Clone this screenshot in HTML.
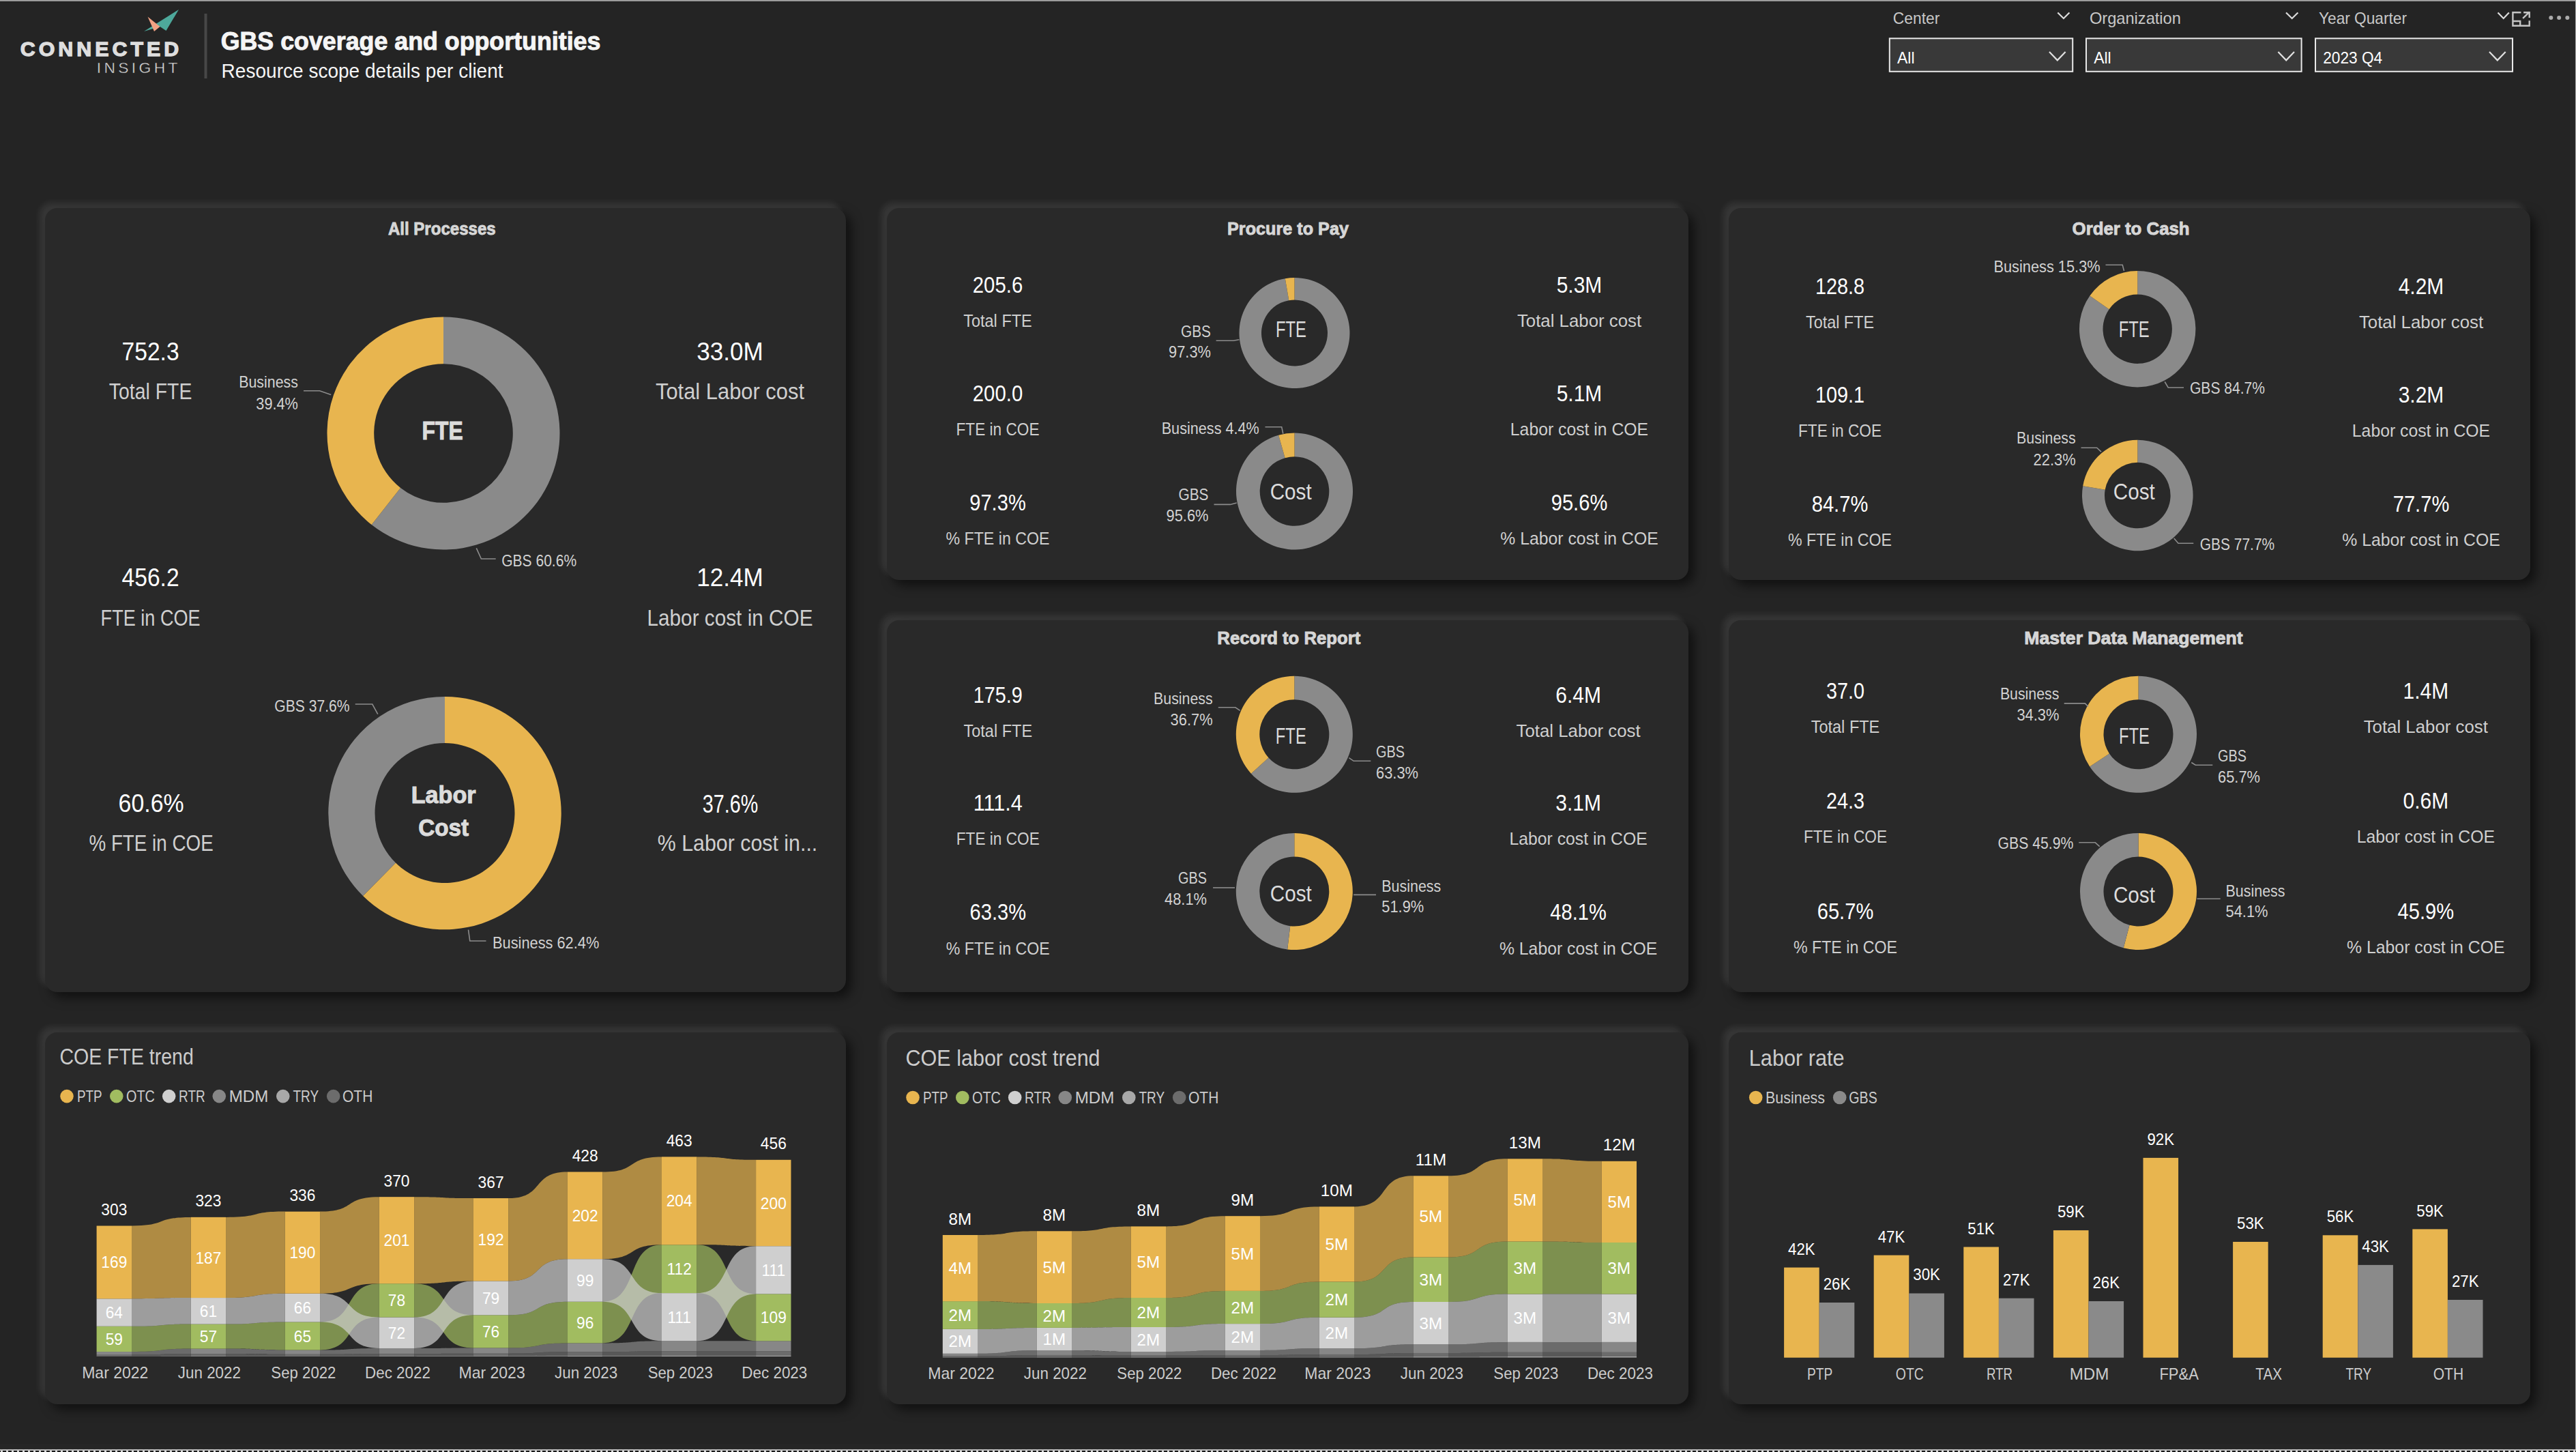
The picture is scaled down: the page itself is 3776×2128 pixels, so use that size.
<!DOCTYPE html>
<html><head><meta charset="utf-8"><title>GBS coverage and opportunities</title>
<style>
html,body{margin:0;padding:0;}
body{width:3776px;height:2128px;background:#242424;position:relative;overflow:hidden;font-family:"Liberation Sans",sans-serif;}
.card{position:absolute;background:#292929;border-radius:18px;box-shadow:-8px -8px 10px rgba(255,255,255,0.09),8px 8px 16px rgba(0,0,0,0.55);}
.topbar{position:absolute;left:0;top:0;width:100%;height:2px;background:#9c9c9c;}
.topbar2{position:absolute;left:0;top:2px;width:100%;height:1px;background:#1c1c1c;}
.rframe{position:absolute;left:3767px;top:3px;width:8px;height:2113px;background:#272727;}
.bframe{position:absolute;left:0;top:2116px;width:3775px;height:8px;background:#262626;}
.rbar{position:absolute;right:0;top:0;width:1px;height:2126px;background:#b0b0b0;}
.bbar{position:absolute;left:0;top:2124px;width:100%;height:2px;background:#bdbdbd;}
.dots{position:absolute;left:0;top:2126px;width:100%;height:2px;background:repeating-linear-gradient(90deg,#1a1a1a 0 1.2px,#d8d8d8 1.2px 4.2px,#1a1a1a 4.2px 7.99px);}
svg{position:absolute;left:0;top:0;}
text{font-family:"Liberation Sans",sans-serif;}
</style></head><body>
<div class="topbar"></div><div class="topbar2"></div>
<div class="card" style="left:66px;top:305px;width:1174px;height:1149px"></div>
<div class="card" style="left:1300px;top:305px;width:1175px;height:545px"></div>
<div class="card" style="left:2534px;top:305px;width:1175px;height:545px"></div>
<div class="card" style="left:1300px;top:909px;width:1175px;height:545px"></div>
<div class="card" style="left:2534px;top:909px;width:1175px;height:545px"></div>
<div class="card" style="left:66px;top:1513px;width:1174px;height:545px"></div>
<div class="card" style="left:1300px;top:1513px;width:1175px;height:545px"></div>
<div class="card" style="left:2534px;top:1513px;width:1175px;height:545px"></div>
<svg width="3776" height="2128" viewBox="0 0 3776 2128">
<polygon points="211,46 262,14 243.5,45 234.5,39" fill="#4DA89B"/>
<polygon points="216.5,24.5 234.5,39 226,46" fill="#F2A283"/>
<text x="29.8" y="81.7" font-size="30.4" font-weight="bold" stroke="#dedede" stroke-width="1.30" fill="#dedede" text-anchor="start" letter-spacing="4.99">CONNECTED</text>
<text x="141.7" y="106.7" font-size="22.8" stroke="#242424" stroke-width="0.45" fill="#dedede" text-anchor="start" letter-spacing="4.39">INSIGHT</text>
<rect x="299.5" y="20" width="4" height="95" fill="#474747"/>
<text x="323.7" y="73.1" font-size="37.6" font-weight="bold" stroke="#f5f5f5" stroke-width="1.00" fill="#f5f5f5" text-anchor="start" textLength="556.7" lengthAdjust="spacingAndGlyphs">GBS coverage and opportunities</text>
<text x="324.6" y="113.6" font-size="28.8" fill="#f5f5f5" text-anchor="start" textLength="413.0" lengthAdjust="spacingAndGlyphs">Resource scope details per client</text>
<text x="2774.8" y="35.0" font-size="23.8" fill="#c8c8c8" text-anchor="start" textLength="68.5" lengthAdjust="spacingAndGlyphs">Center</text>
<polyline points="3016.3,18.5 3024.9,27.0 3033.4,18.5" fill="none" stroke="#dcdcdc" stroke-width="2.2"/>
<rect x="2769.8" y="56.3" width="268.4" height="48.5" fill="#393939" stroke="#e8e8e8" stroke-width="2"/>
<text x="2781.0" y="92.8" font-size="24.5" fill="#ffffff" text-anchor="start" textLength="25.5" lengthAdjust="spacingAndGlyphs">All</text>
<polyline points="3004.0,76.0 3015.8,88.3 3027.6,76.0" fill="none" stroke="#e0e0e0" stroke-width="2.2"/>
<text x="3062.9" y="35.0" font-size="23.8" fill="#c8c8c8" text-anchor="start" textLength="134.0" lengthAdjust="spacingAndGlyphs">Organization</text>
<polyline points="3351.0,18.5 3359.7,27.0 3368.4,18.5" fill="none" stroke="#dcdcdc" stroke-width="2.2"/>
<rect x="3058.0" y="56.3" width="315.6" height="48.5" fill="#393939" stroke="#e8e8e8" stroke-width="2"/>
<text x="3069.2" y="92.8" font-size="24.5" fill="#ffffff" text-anchor="start" textLength="25.5" lengthAdjust="spacingAndGlyphs">All</text>
<polyline points="3339.4,76.0 3351.2,88.3 3363.0,76.0" fill="none" stroke="#e0e0e0" stroke-width="2.2"/>
<text x="3399.0" y="35.0" font-size="23.8" fill="#c8c8c8" text-anchor="start" textLength="129.0" lengthAdjust="spacingAndGlyphs">Year Quarter</text>
<polyline points="3661.5,18.5 3669.7,27.0 3677.8,18.5" fill="none" stroke="#dcdcdc" stroke-width="2.2"/>
<rect x="3394.0" y="56.3" width="289.0" height="48.5" fill="#393939" stroke="#e8e8e8" stroke-width="2"/>
<text x="3405.2" y="92.8" font-size="24.5" fill="#ffffff" text-anchor="start" textLength="87.0" lengthAdjust="spacingAndGlyphs">2023 Q4</text>
<polyline points="3649.0,76.0 3660.8,88.3 3672.7,76.0" fill="none" stroke="#e0e0e0" stroke-width="2.2"/>
<path d="M3695.4 18.3 H3683.4 V37.8 H3707.7 V30.3 M3683.4 31.0 H3694.2 V37.8 M3698.1 26.9 L3707.7 17.6 M3699.1 18.3 H3707.7 V25.9" fill="none" stroke="#c4c4c4" stroke-width="2.4"/>
<circle cx="3739.3" cy="25.9" r="3" fill="#ababab"/>
<circle cx="3751.1" cy="25.9" r="3" fill="#ababab"/>
<circle cx="3763.3" cy="25.9" r="3" fill="#ababab"/>
<text x="647.8" y="344.0" font-size="26.2" font-weight="bold" stroke="#d6d6d6" stroke-width="0.90" fill="#d6d6d6" text-anchor="middle" textLength="157.7" lengthAdjust="spacingAndGlyphs">All Processes</text>
<text x="220.6" y="527.9" font-size="37.0" fill="#ffffff" text-anchor="middle" textLength="84.1" lengthAdjust="spacingAndGlyphs">752.3</text>
<text x="220.6" y="585.1" font-size="33.6" fill="#cfcfcf" text-anchor="middle" textLength="121.5" lengthAdjust="spacingAndGlyphs">Total FTE</text>
<text x="1070.0" y="527.9" font-size="37.0" fill="#ffffff" text-anchor="middle" textLength="97.6" lengthAdjust="spacingAndGlyphs">33.0M</text>
<text x="1070.0" y="585.1" font-size="33.6" fill="#cfcfcf" text-anchor="middle" textLength="218.0" lengthAdjust="spacingAndGlyphs">Total Labor cost</text>
<text x="220.6" y="858.7" font-size="37.0" fill="#ffffff" text-anchor="middle" textLength="84.1" lengthAdjust="spacingAndGlyphs">456.2</text>
<text x="220.6" y="917.0" font-size="33.6" fill="#cfcfcf" text-anchor="middle" textLength="146.0" lengthAdjust="spacingAndGlyphs">FTE in COE</text>
<text x="1070.0" y="858.7" font-size="37.0" fill="#ffffff" text-anchor="middle" textLength="97.6" lengthAdjust="spacingAndGlyphs">12.4M</text>
<text x="1070.0" y="917.0" font-size="33.6" fill="#cfcfcf" text-anchor="middle" textLength="243.0" lengthAdjust="spacingAndGlyphs">Labor cost in COE</text>
<text x="221.6" y="1189.7" font-size="37.0" fill="#ffffff" text-anchor="middle" textLength="96.1" lengthAdjust="spacingAndGlyphs">60.6%</text>
<text x="221.6" y="1246.5" font-size="33.6" fill="#cfcfcf" text-anchor="middle" textLength="182.3" lengthAdjust="spacingAndGlyphs">% FTE in COE</text>
<text x="1070.5" y="1190.6" font-size="37.0" fill="#ffffff" text-anchor="middle" textLength="81.5" lengthAdjust="spacingAndGlyphs">37.6%</text>
<text x="1081.0" y="1246.5" font-size="33.6" fill="#cfcfcf" text-anchor="middle" textLength="234.5" lengthAdjust="spacingAndGlyphs">% Labor cost in...</text>
<path d="M650.00 464.50 A170.50 170.50 0 1 1 544.65 769.06 L587.10 715.04 A101.80 101.80 0 1 0 650.00 533.20 Z" fill="#8A8A8A"/>
<path d="M544.65 769.06 A170.50 170.50 0 0 1 650.00 464.50 L650.00 533.20 A101.80 101.80 0 0 0 587.10 715.04 Z" fill="#E8B54F"/>
<text x="648.6" y="643.7" font-size="37.0" font-weight="bold" stroke="#dcdcdc" stroke-width="1.00" fill="#dcdcdc" text-anchor="middle" textLength="60.1" lengthAdjust="spacingAndGlyphs">FTE</text>
<text x="436.9" y="567.5" font-size="24.5" fill="#d2d2d2" text-anchor="end" textLength="86.7" lengthAdjust="spacingAndGlyphs">Business</text>
<text x="436.9" y="599.7" font-size="24.5" fill="#d2d2d2" text-anchor="end" textLength="61.6" lengthAdjust="spacingAndGlyphs">39.4%</text>
<polyline points="445.0,572.7 468.6,572.7 485.2,578.4" fill="none" stroke="#8c8c8c" stroke-width="1.6"/>
<text x="735.2" y="830.3" font-size="24.5" fill="#d2d2d2" text-anchor="start" textLength="109.9" lengthAdjust="spacingAndGlyphs">GBS 60.6%</text>
<polyline points="698.3,803.3 705.4,819.0 726.7,819.0" fill="none" stroke="#8c8c8c" stroke-width="1.6"/>
<path d="M652.00 1020.90 A170.70 170.70 0 1 1 532.06 1313.06 L579.98 1264.53 A102.50 102.50 0 1 0 652.00 1089.10 Z" fill="#E8B54F"/>
<path d="M532.06 1313.06 A170.70 170.70 0 0 1 652.00 1020.90 L652.00 1089.10 A102.50 102.50 0 0 0 579.98 1264.53 Z" fill="#8A8A8A"/>
<text x="650.2" y="1176.9" font-size="35.0" font-weight="bold" stroke="#dcdcdc" stroke-width="1.00" fill="#dcdcdc" text-anchor="middle" textLength="95.0" lengthAdjust="spacingAndGlyphs">Labor</text>
<text x="650.2" y="1225.2" font-size="35.0" font-weight="bold" stroke="#dcdcdc" stroke-width="1.00" fill="#dcdcdc" text-anchor="middle" textLength="74.0" lengthAdjust="spacingAndGlyphs">Cost</text>
<text x="512.6" y="1042.9" font-size="24.5" fill="#d2d2d2" text-anchor="end" textLength="110.3" lengthAdjust="spacingAndGlyphs">GBS 37.6%</text>
<polyline points="520.7,1032.0 545.8,1032.0 553.8,1046.7" fill="none" stroke="#8c8c8c" stroke-width="1.6"/>
<text x="722.0" y="1390.0" font-size="24.5" fill="#d2d2d2" text-anchor="start" textLength="156.3" lengthAdjust="spacingAndGlyphs">Business 62.4%</text>
<polyline points="686.5,1362.6 688.8,1379.0 712.5,1379.0" fill="none" stroke="#8c8c8c" stroke-width="1.6"/>
<text x="1888.0" y="344.0" font-size="26.2" font-weight="bold" stroke="#d6d6d6" stroke-width="0.90" fill="#d6d6d6" text-anchor="middle" textLength="178.0" lengthAdjust="spacingAndGlyphs">Procure to Pay</text>
<text x="1462.5" y="428.5" font-size="32.8" fill="#ffffff" text-anchor="middle" textLength="73.4" lengthAdjust="spacingAndGlyphs">205.6</text>
<text x="1462.5" y="478.5" font-size="25.5" fill="#cfcfcf" text-anchor="middle" textLength="100.6" lengthAdjust="spacingAndGlyphs">Total FTE</text>
<text x="1462.5" y="588.0" font-size="32.8" fill="#ffffff" text-anchor="middle" textLength="73.4" lengthAdjust="spacingAndGlyphs">200.0</text>
<text x="1462.5" y="638.2" font-size="25.5" fill="#cfcfcf" text-anchor="middle" textLength="122.0" lengthAdjust="spacingAndGlyphs">FTE in COE</text>
<text x="1462.5" y="748.0" font-size="32.8" fill="#ffffff" text-anchor="middle" textLength="82.5" lengthAdjust="spacingAndGlyphs">97.3%</text>
<text x="1462.5" y="797.7" font-size="25.5" fill="#cfcfcf" text-anchor="middle" textLength="152.0" lengthAdjust="spacingAndGlyphs">% FTE in COE</text>
<text x="2315.0" y="429.0" font-size="32.8" fill="#ffffff" text-anchor="middle" textLength="66.6" lengthAdjust="spacingAndGlyphs">5.3M</text>
<text x="2315.0" y="479.1" font-size="25.5" fill="#cfcfcf" text-anchor="middle" textLength="182.2" lengthAdjust="spacingAndGlyphs">Total Labor cost</text>
<text x="2315.0" y="587.6" font-size="32.8" fill="#ffffff" text-anchor="middle" textLength="66.6" lengthAdjust="spacingAndGlyphs">5.1M</text>
<text x="2315.0" y="638.1" font-size="25.5" fill="#cfcfcf" text-anchor="middle" textLength="202.3" lengthAdjust="spacingAndGlyphs">Labor cost in COE</text>
<text x="2315.0" y="748.1" font-size="32.8" fill="#ffffff" text-anchor="middle" textLength="82.5" lengthAdjust="spacingAndGlyphs">95.6%</text>
<text x="2315.0" y="797.7" font-size="25.5" fill="#cfcfcf" text-anchor="middle" textLength="231.4" lengthAdjust="spacingAndGlyphs">% Labor cost in COE</text>
<path d="M1897.50 407.00 A81.00 81.00 0 1 1 1883.82 408.16 L1889.31 440.20 A48.50 48.50 0 1 0 1897.50 439.50 Z" fill="#8A8A8A"/>
<path d="M1883.82 408.16 A81.00 81.00 0 0 1 1897.50 407.00 L1897.50 439.50 A48.50 48.50 0 0 0 1889.31 440.20 Z" fill="#E8B54F"/>
<text x="1892.5" y="494.0" font-size="32.5" fill="#dcdcdc" text-anchor="middle" textLength="45.0" lengthAdjust="spacingAndGlyphs">FTE</text>
<text x="1775.0" y="493.7" font-size="23.0" fill="#d2d2d2" text-anchor="end" textLength="44.0" lengthAdjust="spacingAndGlyphs">GBS</text>
<text x="1775.0" y="524.0" font-size="23.0" fill="#d2d2d2" text-anchor="end" textLength="62.0" lengthAdjust="spacingAndGlyphs">97.3%</text>
<polyline points="1782.6,499.3 1808.0,499.3 1816.4,497.7" fill="none" stroke="#8c8c8c" stroke-width="1.6"/>
<path d="M1897.50 634.50 A85.50 85.50 0 1 1 1874.16 637.75 L1883.63 671.13 A50.80 50.80 0 1 0 1897.50 669.20 Z" fill="#8A8A8A"/>
<path d="M1874.16 637.75 A85.50 85.50 0 0 1 1897.50 634.50 L1897.50 669.20 A50.80 50.80 0 0 0 1883.63 671.13 Z" fill="#E8B54F"/>
<text x="1892.2" y="731.7" font-size="32.5" fill="#dcdcdc" text-anchor="middle" textLength="61.0" lengthAdjust="spacingAndGlyphs">Cost</text>
<text x="1845.8" y="635.6" font-size="23.0" fill="#d2d2d2" text-anchor="end" textLength="143.1" lengthAdjust="spacingAndGlyphs">Business 4.4%</text>
<polyline points="1854.5,625.7 1878.7,625.7 1880.8,635.6" fill="none" stroke="#8c8c8c" stroke-width="1.6"/>
<text x="1771.5" y="733.2" font-size="23.0" fill="#d2d2d2" text-anchor="end" textLength="44.0" lengthAdjust="spacingAndGlyphs">GBS</text>
<text x="1771.5" y="764.2" font-size="23.0" fill="#d2d2d2" text-anchor="end" textLength="62.0" lengthAdjust="spacingAndGlyphs">95.6%</text>
<polyline points="1779.5,739.4 1803.4,739.4 1812.7,737.0" fill="none" stroke="#8c8c8c" stroke-width="1.6"/>
<text x="3123.6" y="344.0" font-size="26.2" font-weight="bold" stroke="#d6d6d6" stroke-width="0.90" fill="#d6d6d6" text-anchor="middle" textLength="172.0" lengthAdjust="spacingAndGlyphs">Order to Cash</text>
<text x="2697.0" y="430.8" font-size="32.8" fill="#ffffff" text-anchor="middle" textLength="72.2" lengthAdjust="spacingAndGlyphs">128.8</text>
<text x="2697.0" y="480.9" font-size="25.5" fill="#cfcfcf" text-anchor="middle" textLength="100.1" lengthAdjust="spacingAndGlyphs">Total FTE</text>
<text x="2697.0" y="589.7" font-size="32.8" fill="#ffffff" text-anchor="middle" textLength="72.2" lengthAdjust="spacingAndGlyphs">109.1</text>
<text x="2697.0" y="640.2" font-size="25.5" fill="#cfcfcf" text-anchor="middle" textLength="122.0" lengthAdjust="spacingAndGlyphs">FTE in COE</text>
<text x="2697.0" y="750.0" font-size="32.8" fill="#ffffff" text-anchor="middle" textLength="82.5" lengthAdjust="spacingAndGlyphs">84.7%</text>
<text x="2697.0" y="799.7" font-size="25.5" fill="#cfcfcf" text-anchor="middle" textLength="152.0" lengthAdjust="spacingAndGlyphs">% FTE in COE</text>
<text x="3549.0" y="430.8" font-size="32.8" fill="#ffffff" text-anchor="middle" textLength="66.6" lengthAdjust="spacingAndGlyphs">4.2M</text>
<text x="3549.0" y="480.9" font-size="25.5" fill="#cfcfcf" text-anchor="middle" textLength="182.2" lengthAdjust="spacingAndGlyphs">Total Labor cost</text>
<text x="3549.0" y="589.7" font-size="32.8" fill="#ffffff" text-anchor="middle" textLength="66.6" lengthAdjust="spacingAndGlyphs">3.2M</text>
<text x="3549.0" y="640.2" font-size="25.5" fill="#cfcfcf" text-anchor="middle" textLength="202.3" lengthAdjust="spacingAndGlyphs">Labor cost in COE</text>
<text x="3549.0" y="750.0" font-size="32.8" fill="#ffffff" text-anchor="middle" textLength="82.5" lengthAdjust="spacingAndGlyphs">77.7%</text>
<text x="3549.0" y="799.7" font-size="25.5" fill="#cfcfcf" text-anchor="middle" textLength="231.4" lengthAdjust="spacingAndGlyphs">% Labor cost in COE</text>
<path d="M3133.20 397.00 A85.20 85.20 0 1 1 3063.34 433.43 L3091.63 453.18 A50.70 50.70 0 1 0 3133.20 431.50 Z" fill="#8A8A8A"/>
<path d="M3063.34 433.43 A85.20 85.20 0 0 1 3133.20 397.00 L3133.20 431.50 A50.70 50.70 0 0 0 3091.63 453.18 Z" fill="#E8B54F"/>
<text x="3128.2" y="493.6" font-size="32.5" fill="#dcdcdc" text-anchor="middle" textLength="45.0" lengthAdjust="spacingAndGlyphs">FTE</text>
<text x="3078.6" y="398.9" font-size="23.0" fill="#d2d2d2" text-anchor="end" textLength="156.1" lengthAdjust="spacingAndGlyphs">Business 15.3%</text>
<polyline points="3086.5,388.2 3111.2,388.2 3113.5,397.0" fill="none" stroke="#8c8c8c" stroke-width="1.6"/>
<text x="3210.0" y="576.6" font-size="23.0" fill="#d2d2d2" text-anchor="start" textLength="109.9" lengthAdjust="spacingAndGlyphs">GBS 84.7%</text>
<polyline points="3173.2,559.5 3178.2,568.0 3201.0,568.0" fill="none" stroke="#8c8c8c" stroke-width="1.6"/>
<path d="M3133.30 644.70 A81.30 81.30 0 1 1 3053.17 712.27 L3085.69 717.85 A48.30 48.30 0 1 0 3133.30 677.70 Z" fill="#8A8A8A"/>
<path d="M3053.17 712.27 A81.30 81.30 0 0 1 3133.30 644.70 L3133.30 677.70 A48.30 48.30 0 0 0 3085.69 717.85 Z" fill="#E8B54F"/>
<text x="3128.3" y="731.9" font-size="32.5" fill="#dcdcdc" text-anchor="middle" textLength="61.0" lengthAdjust="spacingAndGlyphs">Cost</text>
<text x="3042.6" y="649.8" font-size="23.0" fill="#d2d2d2" text-anchor="end" textLength="86.5" lengthAdjust="spacingAndGlyphs">Business</text>
<text x="3042.6" y="681.5" font-size="23.0" fill="#d2d2d2" text-anchor="end" textLength="62.0" lengthAdjust="spacingAndGlyphs">22.3%</text>
<polyline points="3050.5,656.2 3073.7,656.2 3080.0,662.2" fill="none" stroke="#8c8c8c" stroke-width="1.6"/>
<text x="3224.8" y="805.7" font-size="23.0" fill="#d2d2d2" text-anchor="start" textLength="109.4" lengthAdjust="spacingAndGlyphs">GBS 77.7%</text>
<polyline points="3186.8,789.0 3193.0,796.2 3215.3,796.2" fill="none" stroke="#8c8c8c" stroke-width="1.6"/>
<text x="1889.3" y="944.2" font-size="26.2" font-weight="bold" stroke="#d6d6d6" stroke-width="0.90" fill="#d6d6d6" text-anchor="middle" textLength="209.9" lengthAdjust="spacingAndGlyphs">Record to Report</text>
<text x="1462.8" y="1029.5" font-size="32.8" fill="#ffffff" text-anchor="middle" textLength="72.2" lengthAdjust="spacingAndGlyphs">175.9</text>
<text x="1462.8" y="1079.7" font-size="25.5" fill="#cfcfcf" text-anchor="middle" textLength="100.6" lengthAdjust="spacingAndGlyphs">Total FTE</text>
<text x="1462.8" y="1188.2" font-size="32.8" fill="#ffffff" text-anchor="middle" textLength="72.2" lengthAdjust="spacingAndGlyphs">111.4</text>
<text x="1462.8" y="1238.4" font-size="25.5" fill="#cfcfcf" text-anchor="middle" textLength="122.0" lengthAdjust="spacingAndGlyphs">FTE in COE</text>
<text x="1462.8" y="1348.0" font-size="32.8" fill="#ffffff" text-anchor="middle" textLength="82.5" lengthAdjust="spacingAndGlyphs">63.3%</text>
<text x="1462.8" y="1399.0" font-size="25.5" fill="#cfcfcf" text-anchor="middle" textLength="152.0" lengthAdjust="spacingAndGlyphs">% FTE in COE</text>
<text x="2313.6" y="1029.5" font-size="32.8" fill="#ffffff" text-anchor="middle" textLength="66.6" lengthAdjust="spacingAndGlyphs">6.4M</text>
<text x="2313.6" y="1079.7" font-size="25.5" fill="#cfcfcf" text-anchor="middle" textLength="182.2" lengthAdjust="spacingAndGlyphs">Total Labor cost</text>
<text x="2313.6" y="1188.2" font-size="32.8" fill="#ffffff" text-anchor="middle" textLength="66.6" lengthAdjust="spacingAndGlyphs">3.1M</text>
<text x="2313.6" y="1238.4" font-size="25.5" fill="#cfcfcf" text-anchor="middle" textLength="202.3" lengthAdjust="spacingAndGlyphs">Labor cost in COE</text>
<text x="2313.6" y="1348.0" font-size="32.8" fill="#ffffff" text-anchor="middle" textLength="82.5" lengthAdjust="spacingAndGlyphs">48.1%</text>
<text x="2313.6" y="1399.0" font-size="25.5" fill="#cfcfcf" text-anchor="middle" textLength="231.4" lengthAdjust="spacingAndGlyphs">% Labor cost in COE</text>
<path d="M1897.30 990.80 A85.50 85.50 0 1 1 1833.88 1133.64 L1859.47 1110.50 A51.00 51.00 0 1 0 1897.30 1025.30 Z" fill="#8A8A8A"/>
<path d="M1833.88 1133.64 A85.50 85.50 0 0 1 1897.30 990.80 L1897.30 1025.30 A51.00 51.00 0 0 0 1859.47 1110.50 Z" fill="#E8B54F"/>
<text x="1892.3" y="1090.2" font-size="32.5" fill="#dcdcdc" text-anchor="middle" textLength="45.0" lengthAdjust="spacingAndGlyphs">FTE</text>
<text x="1777.6" y="1032.2" font-size="23.0" fill="#d2d2d2" text-anchor="end" textLength="86.5" lengthAdjust="spacingAndGlyphs">Business</text>
<text x="1777.6" y="1062.8" font-size="23.0" fill="#d2d2d2" text-anchor="end" textLength="62.0" lengthAdjust="spacingAndGlyphs">36.7%</text>
<polyline points="1785.8,1036.8 1810.9,1036.8 1817.7,1041.4" fill="none" stroke="#8c8c8c" stroke-width="1.6"/>
<text x="2017.0" y="1109.8" font-size="23.0" fill="#d2d2d2" text-anchor="start" textLength="42.0" lengthAdjust="spacingAndGlyphs">GBS</text>
<text x="2017.0" y="1141.3" font-size="23.0" fill="#d2d2d2" text-anchor="start" textLength="62.0" lengthAdjust="spacingAndGlyphs">63.3%</text>
<polyline points="1977.4,1110.7 1984.2,1115.3 2009.3,1115.3" fill="none" stroke="#8c8c8c" stroke-width="1.6"/>
<path d="M1897.30 1221.00 A85.50 85.50 0 1 1 1887.12 1391.39 L1891.23 1357.14 A51.00 51.00 0 1 0 1897.30 1255.50 Z" fill="#E8B54F"/>
<path d="M1887.12 1391.39 A85.50 85.50 0 0 1 1897.30 1221.00 L1897.30 1255.50 A51.00 51.00 0 0 0 1891.23 1357.14 Z" fill="#8A8A8A"/>
<text x="1892.3" y="1320.5" font-size="32.5" fill="#dcdcdc" text-anchor="middle" textLength="61.0" lengthAdjust="spacingAndGlyphs">Cost</text>
<text x="1769.0" y="1295.4" font-size="23.0" fill="#d2d2d2" text-anchor="end" textLength="42.0" lengthAdjust="spacingAndGlyphs">GBS</text>
<text x="1769.0" y="1326.0" font-size="23.0" fill="#d2d2d2" text-anchor="end" textLength="62.0" lengthAdjust="spacingAndGlyphs">48.1%</text>
<polyline points="1778.0,1301.0 1810.0,1301.0" fill="none" stroke="#8c8c8c" stroke-width="1.6"/>
<text x="2025.3" y="1306.8" font-size="23.0" fill="#d2d2d2" text-anchor="start" textLength="87.0" lengthAdjust="spacingAndGlyphs">Business</text>
<text x="2025.3" y="1337.4" font-size="23.0" fill="#d2d2d2" text-anchor="start" textLength="62.0" lengthAdjust="spacingAndGlyphs">51.9%</text>
<polyline points="1984.2,1311.4 2017.0,1311.4" fill="none" stroke="#8c8c8c" stroke-width="1.6"/>
<text x="3127.5" y="944.2" font-size="26.2" font-weight="bold" stroke="#d6d6d6" stroke-width="0.90" fill="#d6d6d6" text-anchor="middle" textLength="320.3" lengthAdjust="spacingAndGlyphs">Master Data Management</text>
<text x="2705.0" y="1024.0" font-size="32.8" fill="#ffffff" text-anchor="middle" textLength="56.0" lengthAdjust="spacingAndGlyphs">37.0</text>
<text x="2705.0" y="1074.2" font-size="25.5" fill="#cfcfcf" text-anchor="middle" textLength="100.6" lengthAdjust="spacingAndGlyphs">Total FTE</text>
<text x="2705.0" y="1185.1" font-size="32.8" fill="#ffffff" text-anchor="middle" textLength="56.0" lengthAdjust="spacingAndGlyphs">24.3</text>
<text x="2705.0" y="1235.2" font-size="25.5" fill="#cfcfcf" text-anchor="middle" textLength="122.0" lengthAdjust="spacingAndGlyphs">FTE in COE</text>
<text x="2705.0" y="1347.0" font-size="32.8" fill="#ffffff" text-anchor="middle" textLength="82.5" lengthAdjust="spacingAndGlyphs">65.7%</text>
<text x="2705.0" y="1397.2" font-size="25.5" fill="#cfcfcf" text-anchor="middle" textLength="152.0" lengthAdjust="spacingAndGlyphs">% FTE in COE</text>
<text x="3555.8" y="1024.0" font-size="32.8" fill="#ffffff" text-anchor="middle" textLength="66.6" lengthAdjust="spacingAndGlyphs">1.4M</text>
<text x="3555.8" y="1074.2" font-size="25.5" fill="#cfcfcf" text-anchor="middle" textLength="182.2" lengthAdjust="spacingAndGlyphs">Total Labor cost</text>
<text x="3555.8" y="1185.1" font-size="32.8" fill="#ffffff" text-anchor="middle" textLength="66.6" lengthAdjust="spacingAndGlyphs">0.6M</text>
<text x="3555.8" y="1235.2" font-size="25.5" fill="#cfcfcf" text-anchor="middle" textLength="202.3" lengthAdjust="spacingAndGlyphs">Labor cost in COE</text>
<text x="3555.8" y="1347.0" font-size="32.8" fill="#ffffff" text-anchor="middle" textLength="82.5" lengthAdjust="spacingAndGlyphs">45.9%</text>
<text x="3555.8" y="1397.2" font-size="25.5" fill="#cfcfcf" text-anchor="middle" textLength="231.4" lengthAdjust="spacingAndGlyphs">% Labor cost in COE</text>
<path d="M3134.50 990.80 A85.50 85.50 0 1 1 3063.19 1123.47 L3091.96 1104.43 A51.00 51.00 0 1 0 3134.50 1025.30 Z" fill="#8A8A8A"/>
<path d="M3063.19 1123.47 A85.50 85.50 0 0 1 3134.50 990.80 L3134.50 1025.30 A51.00 51.00 0 0 0 3091.96 1104.43 Z" fill="#E8B54F"/>
<text x="3128.4" y="1090.2" font-size="32.5" fill="#dcdcdc" text-anchor="middle" textLength="45.0" lengthAdjust="spacingAndGlyphs">FTE</text>
<text x="3018.4" y="1025.4" font-size="23.0" fill="#d2d2d2" text-anchor="end" textLength="86.5" lengthAdjust="spacingAndGlyphs">Business</text>
<text x="3018.4" y="1056.0" font-size="23.0" fill="#d2d2d2" text-anchor="end" textLength="62.0" lengthAdjust="spacingAndGlyphs">34.3%</text>
<polyline points="3025.7,1030.9 3056.3,1030.9 3060.8,1035.4" fill="none" stroke="#8c8c8c" stroke-width="1.6"/>
<text x="3251.0" y="1116.2" font-size="23.0" fill="#d2d2d2" text-anchor="start" textLength="42.0" lengthAdjust="spacingAndGlyphs">GBS</text>
<text x="3251.0" y="1147.2" font-size="23.0" fill="#d2d2d2" text-anchor="start" textLength="62.0" lengthAdjust="spacingAndGlyphs">65.7%</text>
<polyline points="3212.3,1117.5 3218.2,1121.2 3243.3,1121.2" fill="none" stroke="#8c8c8c" stroke-width="1.6"/>
<path d="M3134.50 1221.00 A85.50 85.50 0 1 1 3112.72 1389.18 L3121.51 1355.82 A51.00 51.00 0 1 0 3134.50 1255.50 Z" fill="#E8B54F"/>
<path d="M3112.72 1389.18 A85.50 85.50 0 0 1 3134.50 1221.00 L3134.50 1255.50 A51.00 51.00 0 0 0 3121.51 1355.82 Z" fill="#8A8A8A"/>
<text x="3128.4" y="1322.8" font-size="32.5" fill="#dcdcdc" text-anchor="middle" textLength="61.0" lengthAdjust="spacingAndGlyphs">Cost</text>
<text x="3039.4" y="1244.4" font-size="23.0" fill="#d2d2d2" text-anchor="end" textLength="110.8" lengthAdjust="spacingAndGlyphs">GBS 45.9%</text>
<polyline points="3047.2,1234.8 3071.3,1234.8 3077.7,1240.7" fill="none" stroke="#8c8c8c" stroke-width="1.6"/>
<text x="3262.5" y="1313.7" font-size="23.0" fill="#d2d2d2" text-anchor="start" textLength="87.0" lengthAdjust="spacingAndGlyphs">Business</text>
<text x="3262.5" y="1344.3" font-size="23.0" fill="#d2d2d2" text-anchor="start" textLength="62.0" lengthAdjust="spacingAndGlyphs">54.1%</text>
<polyline points="3220.5,1317.3 3254.7,1317.3" fill="none" stroke="#8c8c8c" stroke-width="1.6"/>
<text x="87.4" y="1559.6" font-size="33.8" fill="#cccccc" text-anchor="start" textLength="196.4" lengthAdjust="spacingAndGlyphs">COE FTE trend</text>
<text x="1327.5" y="1561.9" font-size="33.8" fill="#cccccc" text-anchor="start" textLength="285.1" lengthAdjust="spacingAndGlyphs">COE labor cost trend</text>
<text x="2563.8" y="1561.9" font-size="33.8" fill="#cccccc" text-anchor="start" textLength="139.8" lengthAdjust="spacingAndGlyphs">Labor rate</text>
<circle cx="98.0" cy="1606.6" r="9.8" fill="#E8B54F"/>
<text x="112.9" y="1614.8" font-size="24.0" fill="#cccccc" text-anchor="start" textLength="36.7" lengthAdjust="spacingAndGlyphs">PTP</text>
<circle cx="170.8" cy="1606.6" r="9.8" fill="#A1BC60"/>
<text x="185.0" y="1614.8" font-size="24.0" fill="#cccccc" text-anchor="start" textLength="41.9" lengthAdjust="spacingAndGlyphs">OTC</text>
<circle cx="247.7" cy="1606.6" r="9.8" fill="#CFCFCF"/>
<text x="262.1" y="1614.8" font-size="24.0" fill="#cccccc" text-anchor="start" textLength="38.7" lengthAdjust="spacingAndGlyphs">RTR</text>
<circle cx="321.3" cy="1606.6" r="9.8" fill="#878787"/>
<text x="335.7" y="1614.8" font-size="24.0" fill="#cccccc" text-anchor="start" textLength="57.6" lengthAdjust="spacingAndGlyphs">MDM</text>
<circle cx="414.8" cy="1606.6" r="9.8" fill="#A8A8A8"/>
<text x="429.4" y="1614.8" font-size="24.0" fill="#cccccc" text-anchor="start" textLength="37.7" lengthAdjust="spacingAndGlyphs">TRY</text>
<circle cx="488.7" cy="1606.6" r="9.8" fill="#6C6C6C"/>
<text x="502.0" y="1614.8" font-size="24.0" fill="#cccccc" text-anchor="start" textLength="44.3" lengthAdjust="spacingAndGlyphs">OTH</text>
<circle cx="1338.0" cy="1608.5" r="9.8" fill="#E8B54F"/>
<text x="1352.9" y="1617.0" font-size="24.0" fill="#cccccc" text-anchor="start" textLength="36.7" lengthAdjust="spacingAndGlyphs">PTP</text>
<circle cx="1410.8" cy="1608.5" r="9.8" fill="#A1BC60"/>
<text x="1425.0" y="1617.0" font-size="24.0" fill="#cccccc" text-anchor="start" textLength="41.9" lengthAdjust="spacingAndGlyphs">OTC</text>
<circle cx="1487.7" cy="1608.5" r="9.8" fill="#CFCFCF"/>
<text x="1502.1" y="1617.0" font-size="24.0" fill="#cccccc" text-anchor="start" textLength="38.7" lengthAdjust="spacingAndGlyphs">RTR</text>
<circle cx="1561.3" cy="1608.5" r="9.8" fill="#878787"/>
<text x="1575.7" y="1617.0" font-size="24.0" fill="#cccccc" text-anchor="start" textLength="57.6" lengthAdjust="spacingAndGlyphs">MDM</text>
<circle cx="1654.8" cy="1608.5" r="9.8" fill="#A8A8A8"/>
<text x="1669.4" y="1617.0" font-size="24.0" fill="#cccccc" text-anchor="start" textLength="37.7" lengthAdjust="spacingAndGlyphs">TRY</text>
<circle cx="1728.7" cy="1608.5" r="9.8" fill="#6C6C6C"/>
<text x="1742.0" y="1617.0" font-size="24.0" fill="#cccccc" text-anchor="start" textLength="44.3" lengthAdjust="spacingAndGlyphs">OTH</text>
<circle cx="2573.7" cy="1608.5" r="9.8" fill="#E8B54F"/>
<text x="2588.0" y="1617.0" font-size="24.0" fill="#cccccc" text-anchor="start" textLength="87.0" lengthAdjust="spacingAndGlyphs">Business</text>
<circle cx="2696.7" cy="1608.5" r="9.8" fill="#8A8A8A"/>
<text x="2710.3" y="1617.0" font-size="24.0" fill="#cccccc" text-anchor="start" textLength="41.5" lengthAdjust="spacingAndGlyphs">GBS</text>
<path d="M193.0 1987.5 C246.7 1987.5 225.9 1987.2 279.7 1987.2 L279.7 1988.0 C225.9 1988.0 246.7 1988.0 193.0 1988.0 Z" fill="#A8A8A8" fill-opacity="0.7"/>
<path d="M331.1 1987.2 C384.8 1987.2 364.0 1987.3 417.7 1987.3 L417.7 1988.0 C364.0 1988.0 384.8 1988.0 331.1 1988.0 Z" fill="#A8A8A8" fill-opacity="0.7"/>
<path d="M469.1 1987.3 C522.9 1987.3 502.1 1987.2 555.8 1987.2 L555.8 1988.0 C502.1 1988.0 522.9 1988.0 469.1 1988.0 Z" fill="#A8A8A8" fill-opacity="0.7"/>
<path d="M607.2 1987.2 C660.9 1987.2 640.1 1987.1 693.9 1987.1 L693.9 1988.0 C640.1 1988.0 660.9 1988.0 607.2 1988.0 Z" fill="#A8A8A8" fill-opacity="0.7"/>
<path d="M745.3 1987.1 C799.0 1987.1 778.2 1986.6 831.9 1986.6 L831.9 1988.0 C778.2 1988.0 799.0 1988.0 745.3 1988.0 Z" fill="#A8A8A8" fill-opacity="0.7"/>
<path d="M883.3 1986.6 C937.1 1986.6 916.3 1986.4 970.0 1986.4 L970.0 1988.0 C916.3 1988.0 937.1 1988.0 883.3 1988.0 Z" fill="#A8A8A8" fill-opacity="0.7"/>
<path d="M1021.4 1986.4 C1075.2 1986.4 1054.4 1986.4 1108.1 1986.4 L1108.1 1988.0 C1054.4 1988.0 1075.2 1988.0 1021.4 1988.0 Z" fill="#A8A8A8" fill-opacity="0.7"/>
<path d="M193.0 1985.6 C246.7 1985.6 225.9 1984.1 279.7 1984.1 L279.7 1987.2 C225.9 1987.2 246.7 1987.5 193.0 1987.5 Z" fill="#6C6C6C" fill-opacity="0.7"/>
<path d="M331.1 1984.1 C384.8 1984.1 364.0 1984.8 417.7 1984.8 L417.7 1987.3 C364.0 1987.3 384.8 1987.2 331.1 1987.2 Z" fill="#6C6C6C" fill-opacity="0.7"/>
<path d="M469.1 1984.8 C522.9 1984.8 502.1 1983.9 555.8 1983.9 L555.8 1987.2 C502.1 1987.2 522.9 1987.3 469.1 1987.3 Z" fill="#6C6C6C" fill-opacity="0.7"/>
<path d="M607.2 1983.9 C660.9 1983.9 640.1 1983.7 693.9 1983.7 L693.9 1987.1 C640.1 1987.1 660.9 1987.2 607.2 1987.2 Z" fill="#6C6C6C" fill-opacity="0.7"/>
<path d="M745.3 1983.7 C799.0 1983.7 778.2 1981.3 831.9 1981.3 L831.9 1986.6 C778.2 1986.6 799.0 1987.1 745.3 1987.1 Z" fill="#6C6C6C" fill-opacity="0.7"/>
<path d="M883.3 1981.3 C937.1 1981.3 916.3 1980.3 970.0 1980.3 L970.0 1986.4 C916.3 1986.4 937.1 1986.6 883.3 1986.6 Z" fill="#6C6C6C" fill-opacity="0.7"/>
<path d="M1021.4 1980.3 C1075.2 1980.3 1054.4 1980.3 1108.1 1980.3 L1108.1 1986.4 C1054.4 1986.4 1075.2 1986.4 1021.4 1986.4 Z" fill="#6C6C6C" fill-opacity="0.7"/>
<path d="M193.0 1981.0 C246.7 1981.0 225.9 1976.6 279.7 1976.6 L279.7 1984.1 C225.9 1984.1 246.7 1985.6 193.0 1985.6 Z" fill="#878787" fill-opacity="0.7"/>
<path d="M331.1 1976.6 C384.8 1976.6 364.0 1978.5 417.7 1978.5 L417.7 1984.8 C364.0 1984.8 384.8 1984.1 331.1 1984.1 Z" fill="#878787" fill-opacity="0.7"/>
<path d="M469.1 1978.5 C522.9 1978.5 502.1 1976.0 555.8 1976.0 L555.8 1983.9 C502.1 1983.9 522.9 1984.8 469.1 1984.8 Z" fill="#878787" fill-opacity="0.7"/>
<path d="M607.2 1976.0 C660.9 1976.0 640.1 1975.4 693.9 1975.4 L693.9 1983.7 C640.1 1983.7 660.9 1983.9 607.2 1983.9 Z" fill="#878787" fill-opacity="0.7"/>
<path d="M745.3 1975.4 C799.0 1975.4 778.2 1968.4 831.9 1968.4 L831.9 1981.3 C778.2 1981.3 799.0 1983.7 745.3 1983.7 Z" fill="#878787" fill-opacity="0.7"/>
<path d="M883.3 1968.4 C937.1 1968.4 916.3 1965.2 970.0 1965.2 L970.0 1980.3 C916.3 1980.3 937.1 1981.3 883.3 1981.3 Z" fill="#878787" fill-opacity="0.7"/>
<path d="M1021.4 1965.2 C1075.2 1965.2 1054.4 1965.2 1108.1 1965.2 L1108.1 1980.3 C1054.4 1980.3 1075.2 1980.3 1021.4 1980.3 Z" fill="#878787" fill-opacity="0.7"/>
<path d="M193.0 1943.8 C246.7 1943.8 225.9 1940.6 279.7 1940.6 L279.7 1976.6 C225.9 1976.6 246.7 1981.0 193.0 1981.0 Z" fill="#A1BC60" fill-opacity="0.7"/>
<path d="M331.1 1940.6 C384.8 1940.6 364.0 1937.4 417.7 1937.4 L417.7 1978.5 C364.0 1978.5 384.8 1976.6 331.1 1976.6 Z" fill="#A1BC60" fill-opacity="0.7"/>
<path d="M469.1 1937.4 C522.9 1937.4 502.1 1881.2 555.8 1881.2 L555.8 1930.5 C502.1 1930.5 522.9 1978.5 469.1 1978.5 Z" fill="#A1BC60" fill-opacity="0.7"/>
<path d="M607.2 1881.2 C660.9 1881.2 640.1 1927.3 693.9 1927.3 L693.9 1975.4 C640.1 1975.4 660.9 1930.5 607.2 1930.5 Z" fill="#A1BC60" fill-opacity="0.7"/>
<path d="M745.3 1927.3 C799.0 1927.3 778.2 1907.7 831.9 1907.7 L831.9 1968.4 C778.2 1968.4 799.0 1975.4 745.3 1975.4 Z" fill="#A1BC60" fill-opacity="0.7"/>
<path d="M883.3 1907.7 C937.1 1907.7 916.3 1824.3 970.0 1824.3 L970.0 1895.1 C916.3 1895.1 937.1 1968.4 883.3 1968.4 Z" fill="#A1BC60" fill-opacity="0.7"/>
<path d="M1021.4 1824.3 C1075.2 1824.3 1054.4 1896.4 1108.1 1896.4 L1108.1 1965.2 C1054.4 1965.2 1075.2 1895.1 1021.4 1895.1 Z" fill="#A1BC60" fill-opacity="0.7"/>
<path d="M193.0 1903.3 C246.7 1903.3 225.9 1902.0 279.7 1902.0 L279.7 1940.6 C225.9 1940.6 246.7 1943.8 193.0 1943.8 Z" fill="#CFCFCF" fill-opacity="0.7"/>
<path d="M331.1 1902.0 C384.8 1902.0 364.0 1895.7 417.7 1895.7 L417.7 1937.4 C364.0 1937.4 384.8 1940.6 331.1 1940.6 Z" fill="#CFCFCF" fill-opacity="0.7"/>
<path d="M469.1 1895.7 C522.9 1895.7 502.1 1930.5 555.8 1930.5 L555.8 1976.0 C502.1 1976.0 522.9 1937.4 469.1 1937.4 Z" fill="#CFCFCF" fill-opacity="0.7"/>
<path d="M607.2 1930.5 C660.9 1930.5 640.1 1877.4 693.9 1877.4 L693.9 1927.3 C640.1 1927.3 660.9 1976.0 607.2 1976.0 Z" fill="#CFCFCF" fill-opacity="0.7"/>
<path d="M745.3 1877.4 C799.0 1877.4 778.2 1845.2 831.9 1845.2 L831.9 1907.7 C778.2 1907.7 799.0 1927.3 745.3 1927.3 Z" fill="#CFCFCF" fill-opacity="0.7"/>
<path d="M883.3 1845.2 C937.1 1845.2 916.3 1895.1 970.0 1895.1 L970.0 1965.2 C916.3 1965.2 937.1 1907.7 883.3 1907.7 Z" fill="#CFCFCF" fill-opacity="0.7"/>
<path d="M1021.4 1895.1 C1075.2 1895.1 1054.4 1826.2 1108.1 1826.2 L1108.1 1896.4 C1054.4 1896.4 1075.2 1965.2 1021.4 1965.2 Z" fill="#CFCFCF" fill-opacity="0.7"/>
<path d="M193.0 1796.5 C246.7 1796.5 225.9 1783.9 279.7 1783.9 L279.7 1902.0 C225.9 1902.0 246.7 1903.3 193.0 1903.3 Z" fill="#E8B54F" fill-opacity="0.7"/>
<path d="M331.1 1783.9 C384.8 1783.9 364.0 1775.6 417.7 1775.6 L417.7 1895.7 C364.0 1895.7 384.8 1902.0 331.1 1902.0 Z" fill="#E8B54F" fill-opacity="0.7"/>
<path d="M469.1 1775.6 C522.9 1775.6 502.1 1754.2 555.8 1754.2 L555.8 1881.2 C502.1 1881.2 522.9 1895.7 469.1 1895.7 Z" fill="#E8B54F" fill-opacity="0.7"/>
<path d="M607.2 1754.2 C660.9 1754.2 640.1 1756.1 693.9 1756.1 L693.9 1877.4 C640.1 1877.4 660.9 1881.2 607.2 1881.2 Z" fill="#E8B54F" fill-opacity="0.7"/>
<path d="M745.3 1756.1 C799.0 1756.1 778.2 1717.5 831.9 1717.5 L831.9 1845.2 C778.2 1845.2 799.0 1877.4 745.3 1877.4 Z" fill="#E8B54F" fill-opacity="0.7"/>
<path d="M883.3 1717.5 C937.1 1717.5 916.3 1695.4 970.0 1695.4 L970.0 1824.3 C916.3 1824.3 937.1 1845.2 883.3 1845.2 Z" fill="#E8B54F" fill-opacity="0.7"/>
<path d="M1021.4 1695.4 C1075.2 1695.4 1054.4 1699.8 1108.1 1699.8 L1108.1 1826.2 C1054.4 1826.2 1075.2 1824.3 1021.4 1824.3 Z" fill="#E8B54F" fill-opacity="0.7"/>
<rect x="141.6" y="1987.51" width="51.4" height="0.49" fill="#A8A8A8"/>
<rect x="141.6" y="1985.64" width="51.4" height="1.88" fill="#6C6C6C"/>
<rect x="141.6" y="1981.05" width="51.4" height="4.59" fill="#878787"/>
<rect x="141.6" y="1943.76" width="51.4" height="37.29" fill="#A1BC60"/>
<rect x="141.6" y="1903.31" width="51.4" height="40.45" fill="#CFCFCF"/>
<rect x="141.6" y="1796.50" width="51.4" height="106.81" fill="#E8B54F"/>
<rect x="279.7" y="1987.20" width="51.4" height="0.80" fill="#A8A8A8"/>
<rect x="279.7" y="1984.13" width="51.4" height="3.07" fill="#6C6C6C"/>
<rect x="279.7" y="1976.62" width="51.4" height="7.51" fill="#878787"/>
<rect x="279.7" y="1940.60" width="51.4" height="36.02" fill="#A1BC60"/>
<rect x="279.7" y="1902.05" width="51.4" height="38.55" fill="#CFCFCF"/>
<rect x="279.7" y="1783.86" width="51.4" height="118.18" fill="#E8B54F"/>
<rect x="417.7" y="1987.34" width="51.4" height="0.66" fill="#A8A8A8"/>
<rect x="417.7" y="1984.78" width="51.4" height="2.56" fill="#6C6C6C"/>
<rect x="417.7" y="1978.52" width="51.4" height="6.26" fill="#878787"/>
<rect x="417.7" y="1937.44" width="51.4" height="41.08" fill="#A1BC60"/>
<rect x="417.7" y="1895.73" width="51.4" height="41.71" fill="#CFCFCF"/>
<rect x="417.7" y="1775.65" width="51.4" height="120.08" fill="#E8B54F"/>
<rect x="555.8" y="1987.16" width="51.4" height="0.84" fill="#A8A8A8"/>
<rect x="555.8" y="1983.92" width="51.4" height="3.24" fill="#6C6C6C"/>
<rect x="555.8" y="1975.99" width="51.4" height="7.93" fill="#878787"/>
<rect x="555.8" y="1930.49" width="51.4" height="45.50" fill="#CFCFCF"/>
<rect x="555.8" y="1881.19" width="51.4" height="49.30" fill="#A1BC60"/>
<rect x="555.8" y="1754.16" width="51.4" height="127.03" fill="#E8B54F"/>
<rect x="693.9" y="1987.12" width="51.4" height="0.88" fill="#A8A8A8"/>
<rect x="693.9" y="1983.70" width="51.4" height="3.41" fill="#6C6C6C"/>
<rect x="693.9" y="1975.36" width="51.4" height="8.34" fill="#878787"/>
<rect x="693.9" y="1927.33" width="51.4" height="48.03" fill="#A1BC60"/>
<rect x="693.9" y="1877.40" width="51.4" height="49.93" fill="#CFCFCF"/>
<rect x="693.9" y="1756.06" width="51.4" height="121.34" fill="#E8B54F"/>
<rect x="831.9" y="1986.63" width="51.4" height="1.37" fill="#A8A8A8"/>
<rect x="831.9" y="1981.34" width="51.4" height="5.29" fill="#6C6C6C"/>
<rect x="831.9" y="1968.41" width="51.4" height="12.93" fill="#878787"/>
<rect x="831.9" y="1907.74" width="51.4" height="60.67" fill="#A1BC60"/>
<rect x="831.9" y="1845.17" width="51.4" height="62.57" fill="#CFCFCF"/>
<rect x="831.9" y="1717.50" width="51.4" height="127.66" fill="#E8B54F"/>
<rect x="970.0" y="1986.41" width="51.4" height="1.59" fill="#A8A8A8"/>
<rect x="970.0" y="1980.26" width="51.4" height="6.14" fill="#6C6C6C"/>
<rect x="970.0" y="1965.25" width="51.4" height="15.02" fill="#878787"/>
<rect x="970.0" y="1895.10" width="51.4" height="70.15" fill="#CFCFCF"/>
<rect x="970.0" y="1824.31" width="51.4" height="70.78" fill="#A1BC60"/>
<rect x="970.0" y="1695.38" width="51.4" height="128.93" fill="#E8B54F"/>
<rect x="1108.1" y="1986.41" width="51.4" height="1.59" fill="#A8A8A8"/>
<rect x="1108.1" y="1980.26" width="51.4" height="6.14" fill="#6C6C6C"/>
<rect x="1108.1" y="1965.25" width="51.4" height="15.02" fill="#878787"/>
<rect x="1108.1" y="1896.36" width="51.4" height="68.89" fill="#A1BC60"/>
<rect x="1108.1" y="1826.21" width="51.4" height="70.15" fill="#CFCFCF"/>
<rect x="1108.1" y="1699.81" width="51.4" height="126.40" fill="#E8B54F"/>
<text x="167.3" y="1781.0" font-size="24.2" fill="#ffffff" text-anchor="middle" textLength="38.0" lengthAdjust="spacingAndGlyphs">303</text>
<text x="167.3" y="1858.4" font-size="24.2" fill="#ffffff" text-anchor="middle" textLength="38.0" lengthAdjust="spacingAndGlyphs">169</text>
<text x="167.3" y="1932.0" font-size="24.2" fill="#ffffff" text-anchor="middle" textLength="25.3" lengthAdjust="spacingAndGlyphs">64</text>
<text x="167.3" y="1970.9" font-size="24.2" fill="#ffffff" text-anchor="middle" textLength="25.3" lengthAdjust="spacingAndGlyphs">59</text>
<text x="168.8" y="2019.7" font-size="23.8" fill="#cccccc" text-anchor="middle" textLength="97.2" lengthAdjust="spacingAndGlyphs">Mar 2022</text>
<text x="305.4" y="1768.4" font-size="24.2" fill="#ffffff" text-anchor="middle" textLength="38.0" lengthAdjust="spacingAndGlyphs">323</text>
<text x="305.4" y="1851.5" font-size="24.2" fill="#ffffff" text-anchor="middle" textLength="38.0" lengthAdjust="spacingAndGlyphs">187</text>
<text x="305.4" y="1929.8" font-size="24.2" fill="#ffffff" text-anchor="middle" textLength="25.3" lengthAdjust="spacingAndGlyphs">61</text>
<text x="305.4" y="1967.1" font-size="24.2" fill="#ffffff" text-anchor="middle" textLength="25.3" lengthAdjust="spacingAndGlyphs">57</text>
<text x="306.9" y="2019.7" font-size="23.8" fill="#cccccc" text-anchor="middle" textLength="92.3" lengthAdjust="spacingAndGlyphs">Jun 2022</text>
<text x="443.4" y="1760.1" font-size="24.2" fill="#ffffff" text-anchor="middle" textLength="38.0" lengthAdjust="spacingAndGlyphs">336</text>
<text x="443.4" y="1844.2" font-size="24.2" fill="#ffffff" text-anchor="middle" textLength="38.0" lengthAdjust="spacingAndGlyphs">190</text>
<text x="443.4" y="1925.1" font-size="24.2" fill="#ffffff" text-anchor="middle" textLength="25.3" lengthAdjust="spacingAndGlyphs">66</text>
<text x="443.4" y="1966.5" font-size="24.2" fill="#ffffff" text-anchor="middle" textLength="25.3" lengthAdjust="spacingAndGlyphs">65</text>
<text x="444.9" y="2019.7" font-size="23.8" fill="#cccccc" text-anchor="middle" textLength="95.1" lengthAdjust="spacingAndGlyphs">Sep 2022</text>
<text x="581.5" y="1738.7" font-size="24.2" fill="#ffffff" text-anchor="middle" textLength="38.0" lengthAdjust="spacingAndGlyphs">370</text>
<text x="581.5" y="1826.2" font-size="24.2" fill="#ffffff" text-anchor="middle" textLength="38.0" lengthAdjust="spacingAndGlyphs">201</text>
<text x="581.5" y="1914.3" font-size="24.2" fill="#ffffff" text-anchor="middle" textLength="25.3" lengthAdjust="spacingAndGlyphs">78</text>
<text x="581.5" y="1961.7" font-size="24.2" fill="#ffffff" text-anchor="middle" textLength="25.3" lengthAdjust="spacingAndGlyphs">72</text>
<text x="583.0" y="2019.7" font-size="23.8" fill="#cccccc" text-anchor="middle" textLength="96.0" lengthAdjust="spacingAndGlyphs">Dec 2022</text>
<text x="719.6" y="1740.6" font-size="24.2" fill="#ffffff" text-anchor="middle" textLength="38.0" lengthAdjust="spacingAndGlyphs">367</text>
<text x="719.6" y="1825.2" font-size="24.2" fill="#ffffff" text-anchor="middle" textLength="38.0" lengthAdjust="spacingAndGlyphs">192</text>
<text x="719.6" y="1910.9" font-size="24.2" fill="#ffffff" text-anchor="middle" textLength="25.3" lengthAdjust="spacingAndGlyphs">79</text>
<text x="719.6" y="1959.8" font-size="24.2" fill="#ffffff" text-anchor="middle" textLength="25.3" lengthAdjust="spacingAndGlyphs">76</text>
<text x="721.1" y="2019.7" font-size="23.8" fill="#cccccc" text-anchor="middle" textLength="97.2" lengthAdjust="spacingAndGlyphs">Mar 2023</text>
<text x="857.7" y="1702.0" font-size="24.2" fill="#ffffff" text-anchor="middle" textLength="38.0" lengthAdjust="spacingAndGlyphs">428</text>
<text x="857.7" y="1789.8" font-size="24.2" fill="#ffffff" text-anchor="middle" textLength="38.0" lengthAdjust="spacingAndGlyphs">202</text>
<text x="857.7" y="1885.0" font-size="24.2" fill="#ffffff" text-anchor="middle" textLength="25.3" lengthAdjust="spacingAndGlyphs">99</text>
<text x="857.7" y="1946.6" font-size="24.2" fill="#ffffff" text-anchor="middle" textLength="25.3" lengthAdjust="spacingAndGlyphs">96</text>
<text x="859.1" y="2019.7" font-size="23.8" fill="#cccccc" text-anchor="middle" textLength="92.3" lengthAdjust="spacingAndGlyphs">Jun 2023</text>
<text x="995.7" y="1679.9" font-size="24.2" fill="#ffffff" text-anchor="middle" textLength="38.0" lengthAdjust="spacingAndGlyphs">463</text>
<text x="995.7" y="1768.3" font-size="24.2" fill="#ffffff" text-anchor="middle" textLength="38.0" lengthAdjust="spacingAndGlyphs">204</text>
<text x="995.7" y="1868.2" font-size="24.2" fill="#ffffff" text-anchor="middle" textLength="36.3" lengthAdjust="spacingAndGlyphs">112</text>
<text x="995.7" y="1938.7" font-size="24.2" fill="#ffffff" text-anchor="middle" textLength="34.6" lengthAdjust="spacingAndGlyphs">111</text>
<text x="997.2" y="2019.7" font-size="23.8" fill="#cccccc" text-anchor="middle" textLength="95.1" lengthAdjust="spacingAndGlyphs">Sep 2023</text>
<text x="1133.8" y="1684.3" font-size="24.2" fill="#ffffff" text-anchor="middle" textLength="38.0" lengthAdjust="spacingAndGlyphs">456</text>
<text x="1133.8" y="1771.5" font-size="24.2" fill="#ffffff" text-anchor="middle" textLength="38.0" lengthAdjust="spacingAndGlyphs">200</text>
<text x="1133.8" y="1869.8" font-size="24.2" fill="#ffffff" text-anchor="middle" textLength="34.6" lengthAdjust="spacingAndGlyphs">111</text>
<text x="1133.8" y="1939.3" font-size="24.2" fill="#ffffff" text-anchor="middle" textLength="38.0" lengthAdjust="spacingAndGlyphs">109</text>
<text x="1135.3" y="2019.7" font-size="23.8" fill="#cccccc" text-anchor="middle" textLength="96.0" lengthAdjust="spacingAndGlyphs">Dec 2023</text>
<path d="M1433.0 1989.1 C1486.8 1989.1 1466.0 1988.8 1519.8 1988.8 L1519.8 1989.5 C1466.0 1989.5 1486.8 1989.5 1433.0 1989.5 Z" fill="#A8A8A8" fill-opacity="0.7"/>
<path d="M1571.0 1988.8 C1624.8 1988.8 1604.0 1988.9 1657.8 1988.9 L1657.8 1989.5 C1604.0 1989.5 1624.8 1989.5 1571.0 1989.5 Z" fill="#A8A8A8" fill-opacity="0.7"/>
<path d="M1709.0 1988.9 C1762.8 1988.9 1742.0 1988.8 1795.8 1988.8 L1795.8 1989.5 C1742.0 1989.5 1762.8 1989.5 1709.0 1989.5 Z" fill="#A8A8A8" fill-opacity="0.7"/>
<path d="M1847.0 1988.8 C1900.8 1988.8 1880.0 1988.6 1933.8 1988.6 L1933.8 1989.5 C1880.0 1989.5 1900.8 1989.5 1847.0 1989.5 Z" fill="#A8A8A8" fill-opacity="0.7"/>
<path d="M1985.0 1988.6 C2038.8 1988.6 2018.0 1988.2 2071.8 1988.2 L2071.8 1989.5 C2018.0 1989.5 2038.8 1989.5 1985.0 1989.5 Z" fill="#A8A8A8" fill-opacity="0.7"/>
<path d="M2123.0 1988.2 C2176.8 1988.2 2156.0 1987.9 2209.8 1987.9 L2209.8 1989.5 C2156.0 1989.5 2176.8 1989.5 2123.0 1989.5 Z" fill="#A8A8A8" fill-opacity="0.7"/>
<path d="M2261.0 1987.9 C2314.8 1987.9 2294.0 1987.9 2347.8 1987.9 L2347.8 1989.5 C2294.0 1989.5 2314.8 1989.5 2261.0 1989.5 Z" fill="#A8A8A8" fill-opacity="0.7"/>
<path d="M1433.0 1987.6 C1486.8 1987.6 1466.0 1985.9 1519.8 1985.9 L1519.8 1988.8 C1466.0 1988.8 1486.8 1989.1 1433.0 1989.1 Z" fill="#6C6C6C" fill-opacity="0.7"/>
<path d="M1571.0 1985.9 C1624.8 1985.9 1604.0 1986.6 1657.8 1986.6 L1657.8 1988.9 C1604.0 1988.9 1624.8 1988.8 1571.0 1988.8 Z" fill="#6C6C6C" fill-opacity="0.7"/>
<path d="M1709.0 1986.6 C1762.8 1986.6 1742.0 1985.9 1795.8 1985.9 L1795.8 1988.8 C1742.0 1988.8 1762.8 1988.9 1709.0 1988.9 Z" fill="#6C6C6C" fill-opacity="0.7"/>
<path d="M1847.0 1985.9 C1900.8 1985.9 1880.0 1984.9 1933.8 1984.9 L1933.8 1988.6 C1880.0 1988.6 1900.8 1988.8 1847.0 1988.8 Z" fill="#6C6C6C" fill-opacity="0.7"/>
<path d="M1985.0 1984.9 C2038.8 1984.9 2018.0 1983.0 2071.8 1983.0 L2071.8 1988.2 C2018.0 1988.2 2038.8 1988.6 1985.0 1988.6 Z" fill="#6C6C6C" fill-opacity="0.7"/>
<path d="M2123.0 1983.0 C2176.8 1983.0 2156.0 1981.8 2209.8 1981.8 L2209.8 1987.9 C2156.0 1987.9 2176.8 1988.2 2123.0 1988.2 Z" fill="#6C6C6C" fill-opacity="0.7"/>
<path d="M2261.0 1981.8 C2314.8 1981.8 2294.0 1981.8 2347.8 1981.8 L2347.8 1987.9 C2294.0 1987.9 2314.8 1987.9 2261.0 1987.9 Z" fill="#6C6C6C" fill-opacity="0.7"/>
<path d="M1433.0 1983.8 C1486.8 1983.8 1466.0 1979.0 1519.8 1979.0 L1519.8 1985.9 C1466.0 1985.9 1486.8 1987.6 1433.0 1987.6 Z" fill="#878787" fill-opacity="0.7"/>
<path d="M1571.0 1979.0 C1624.8 1979.0 1604.0 1981.0 1657.8 1981.0 L1657.8 1986.6 C1604.0 1986.6 1624.8 1985.9 1571.0 1985.9 Z" fill="#878787" fill-opacity="0.7"/>
<path d="M1709.0 1981.0 C1762.8 1981.0 1742.0 1979.0 1795.8 1979.0 L1795.8 1985.9 C1742.0 1985.9 1762.8 1986.6 1709.0 1986.6 Z" fill="#878787" fill-opacity="0.7"/>
<path d="M1847.0 1979.0 C1900.8 1979.0 1880.0 1976.1 1933.8 1976.1 L1933.8 1984.9 C1880.0 1984.9 1900.8 1985.9 1847.0 1985.9 Z" fill="#878787" fill-opacity="0.7"/>
<path d="M1985.0 1976.1 C2038.8 1976.1 2018.0 1970.3 2071.8 1970.3 L2071.8 1983.0 C2018.0 1983.0 2038.8 1984.9 1985.0 1984.9 Z" fill="#878787" fill-opacity="0.7"/>
<path d="M2123.0 1970.3 C2176.8 1970.3 2156.0 1966.9 2209.8 1966.9 L2209.8 1981.8 C2156.0 1981.8 2176.8 1983.0 2123.0 1983.0 Z" fill="#878787" fill-opacity="0.7"/>
<path d="M2261.0 1966.9 C2314.8 1966.9 2294.0 1966.9 2347.8 1966.9 L2347.8 1981.8 C2294.0 1981.8 2314.8 1981.8 2261.0 1981.8 Z" fill="#878787" fill-opacity="0.7"/>
<path d="M1433.0 1907.1 C1486.8 1907.1 1466.0 1910.0 1519.8 1910.0 L1519.8 1945.9 C1466.0 1945.9 1486.8 1947.9 1433.0 1947.9 Z" fill="#A1BC60" fill-opacity="0.7"/>
<path d="M1571.0 1910.0 C1624.8 1910.0 1604.0 1902.0 1657.8 1902.0 L1657.8 1945.0 C1604.0 1945.0 1624.8 1945.9 1571.0 1945.9 Z" fill="#A1BC60" fill-opacity="0.7"/>
<path d="M1709.0 1902.0 C1762.8 1902.0 1742.0 1891.9 1795.8 1891.9 L1795.8 1940.1 C1742.0 1940.1 1762.8 1945.0 1709.0 1945.0 Z" fill="#A1BC60" fill-opacity="0.7"/>
<path d="M1847.0 1891.9 C1900.8 1891.9 1880.0 1878.4 1933.8 1878.4 L1933.8 1930.7 C1880.0 1930.7 1900.8 1940.1 1847.0 1940.1 Z" fill="#A1BC60" fill-opacity="0.7"/>
<path d="M1985.0 1878.4 C2038.8 1878.4 2018.0 1842.5 2071.8 1842.5 L2071.8 1908.0 C2018.0 1908.0 2038.8 1930.7 1985.0 1930.7 Z" fill="#A1BC60" fill-opacity="0.7"/>
<path d="M2123.0 1842.5 C2176.8 1842.5 2156.0 1819.5 2209.8 1819.5 L2209.8 1896.5 C2156.0 1896.5 2176.8 1908.0 2123.0 1908.0 Z" fill="#A1BC60" fill-opacity="0.7"/>
<path d="M2261.0 1819.5 C2314.8 1819.5 2294.0 1821.0 2347.8 1821.0 L2347.8 1896.5 C2294.0 1896.5 2314.8 1896.5 2261.0 1896.5 Z" fill="#A1BC60" fill-opacity="0.7"/>
<path d="M1433.0 1947.9 C1486.8 1947.9 1466.0 1945.9 1519.8 1945.9 L1519.8 1979.0 C1466.0 1979.0 1486.8 1983.8 1433.0 1983.8 Z" fill="#CFCFCF" fill-opacity="0.7"/>
<path d="M1571.0 1945.9 C1624.8 1945.9 1604.0 1945.0 1657.8 1945.0 L1657.8 1981.0 C1604.0 1981.0 1624.8 1979.0 1571.0 1979.0 Z" fill="#CFCFCF" fill-opacity="0.7"/>
<path d="M1709.0 1945.0 C1762.8 1945.0 1742.0 1940.1 1795.8 1940.1 L1795.8 1979.0 C1742.0 1979.0 1762.8 1981.0 1709.0 1981.0 Z" fill="#CFCFCF" fill-opacity="0.7"/>
<path d="M1847.0 1940.1 C1900.8 1940.1 1880.0 1930.7 1933.8 1930.7 L1933.8 1976.1 C1880.0 1976.1 1900.8 1979.0 1847.0 1979.0 Z" fill="#CFCFCF" fill-opacity="0.7"/>
<path d="M1985.0 1930.7 C2038.8 1930.7 2018.0 1908.0 2071.8 1908.0 L2071.8 1970.3 C2018.0 1970.3 2038.8 1976.1 1985.0 1976.1 Z" fill="#CFCFCF" fill-opacity="0.7"/>
<path d="M2123.0 1908.0 C2176.8 1908.0 2156.0 1896.5 2209.8 1896.5 L2209.8 1966.9 C2156.0 1966.9 2176.8 1970.3 2123.0 1970.3 Z" fill="#CFCFCF" fill-opacity="0.7"/>
<path d="M2261.0 1896.5 C2314.8 1896.5 2294.0 1896.5 2347.8 1896.5 L2347.8 1966.9 C2294.0 1966.9 2314.8 1966.9 2261.0 1966.9 Z" fill="#CFCFCF" fill-opacity="0.7"/>
<path d="M1433.0 1810.0 C1486.8 1810.0 1466.0 1804.3 1519.8 1804.3 L1519.8 1910.0 C1466.0 1910.0 1486.8 1907.1 1433.0 1907.1 Z" fill="#E8B54F" fill-opacity="0.7"/>
<path d="M1571.0 1804.3 C1624.8 1804.3 1604.0 1797.4 1657.8 1797.4 L1657.8 1902.0 C1604.0 1902.0 1624.8 1910.0 1571.0 1910.0 Z" fill="#E8B54F" fill-opacity="0.7"/>
<path d="M1709.0 1797.4 C1762.8 1797.4 1742.0 1782.2 1795.8 1782.2 L1795.8 1891.9 C1742.0 1891.9 1762.8 1902.0 1709.0 1902.0 Z" fill="#E8B54F" fill-opacity="0.7"/>
<path d="M1847.0 1782.2 C1900.8 1782.2 1880.0 1768.4 1933.8 1768.4 L1933.8 1878.4 C1880.0 1878.4 1900.8 1891.9 1847.0 1891.9 Z" fill="#E8B54F" fill-opacity="0.7"/>
<path d="M1985.0 1768.4 C2038.8 1768.4 2018.0 1723.3 2071.8 1723.3 L2071.8 1842.5 C2018.0 1842.5 2038.8 1878.4 1985.0 1878.4 Z" fill="#E8B54F" fill-opacity="0.7"/>
<path d="M2123.0 1723.3 C2176.8 1723.3 2156.0 1698.3 2209.8 1698.3 L2209.8 1819.5 C2156.0 1819.5 2176.8 1842.5 2123.0 1842.5 Z" fill="#E8B54F" fill-opacity="0.7"/>
<path d="M2261.0 1698.3 C2314.8 1698.3 2294.0 1701.8 2347.8 1701.8 L2347.8 1821.0 C2294.0 1821.0 2314.8 1819.5 2261.0 1819.5 Z" fill="#E8B54F" fill-opacity="0.7"/>
<rect x="1381.8" y="1989.10" width="51.2" height="0.40" fill="#A8A8A8"/>
<rect x="1381.8" y="1987.56" width="51.2" height="1.54" fill="#6C6C6C"/>
<rect x="1381.8" y="1983.80" width="51.2" height="3.76" fill="#878787"/>
<rect x="1381.8" y="1947.90" width="51.2" height="35.90" fill="#CFCFCF"/>
<rect x="1381.8" y="1907.10" width="51.2" height="40.80" fill="#A1BC60"/>
<rect x="1381.8" y="1810.00" width="51.2" height="97.10" fill="#E8B54F"/>
<rect x="1519.8" y="1988.77" width="51.2" height="0.73" fill="#A8A8A8"/>
<rect x="1519.8" y="1985.93" width="51.2" height="2.84" fill="#6C6C6C"/>
<rect x="1519.8" y="1979.00" width="51.2" height="6.93" fill="#878787"/>
<rect x="1519.8" y="1945.90" width="51.2" height="33.10" fill="#CFCFCF"/>
<rect x="1519.8" y="1910.00" width="51.2" height="35.90" fill="#A1BC60"/>
<rect x="1519.8" y="1804.30" width="51.2" height="105.70" fill="#E8B54F"/>
<rect x="1657.8" y="1988.90" width="51.2" height="0.60" fill="#A8A8A8"/>
<rect x="1657.8" y="1986.61" width="51.2" height="2.30" fill="#6C6C6C"/>
<rect x="1657.8" y="1981.00" width="51.2" height="5.61" fill="#878787"/>
<rect x="1657.8" y="1945.00" width="51.2" height="36.00" fill="#CFCFCF"/>
<rect x="1657.8" y="1902.00" width="51.2" height="43.00" fill="#A1BC60"/>
<rect x="1657.8" y="1797.40" width="51.2" height="104.60" fill="#E8B54F"/>
<rect x="1795.8" y="1988.77" width="51.2" height="0.73" fill="#A8A8A8"/>
<rect x="1795.8" y="1985.93" width="51.2" height="2.84" fill="#6C6C6C"/>
<rect x="1795.8" y="1979.00" width="51.2" height="6.93" fill="#878787"/>
<rect x="1795.8" y="1940.10" width="51.2" height="38.90" fill="#CFCFCF"/>
<rect x="1795.8" y="1891.90" width="51.2" height="48.20" fill="#A1BC60"/>
<rect x="1795.8" y="1782.20" width="51.2" height="109.70" fill="#E8B54F"/>
<rect x="1933.8" y="1988.56" width="51.2" height="0.94" fill="#A8A8A8"/>
<rect x="1933.8" y="1984.94" width="51.2" height="3.62" fill="#6C6C6C"/>
<rect x="1933.8" y="1976.10" width="51.2" height="8.84" fill="#878787"/>
<rect x="1933.8" y="1930.70" width="51.2" height="45.40" fill="#CFCFCF"/>
<rect x="1933.8" y="1878.40" width="51.2" height="52.30" fill="#A1BC60"/>
<rect x="1933.8" y="1768.40" width="51.2" height="110.00" fill="#E8B54F"/>
<rect x="2071.8" y="1988.16" width="51.2" height="1.34" fill="#A8A8A8"/>
<rect x="2071.8" y="1982.97" width="51.2" height="5.18" fill="#6C6C6C"/>
<rect x="2071.8" y="1970.30" width="51.2" height="12.67" fill="#878787"/>
<rect x="2071.8" y="1908.00" width="51.2" height="62.30" fill="#CFCFCF"/>
<rect x="2071.8" y="1842.50" width="51.2" height="65.50" fill="#A1BC60"/>
<rect x="2071.8" y="1723.30" width="51.2" height="119.20" fill="#E8B54F"/>
<rect x="2209.8" y="1987.92" width="51.2" height="1.58" fill="#A8A8A8"/>
<rect x="2209.8" y="1981.82" width="51.2" height="6.10" fill="#6C6C6C"/>
<rect x="2209.8" y="1966.90" width="51.2" height="14.92" fill="#878787"/>
<rect x="2209.8" y="1896.50" width="51.2" height="70.40" fill="#CFCFCF"/>
<rect x="2209.8" y="1819.50" width="51.2" height="77.00" fill="#A1BC60"/>
<rect x="2209.8" y="1698.30" width="51.2" height="121.20" fill="#E8B54F"/>
<rect x="2347.8" y="1987.92" width="51.2" height="1.58" fill="#A8A8A8"/>
<rect x="2347.8" y="1981.82" width="51.2" height="6.10" fill="#6C6C6C"/>
<rect x="2347.8" y="1966.90" width="51.2" height="14.92" fill="#878787"/>
<rect x="2347.8" y="1896.50" width="51.2" height="70.40" fill="#CFCFCF"/>
<rect x="2347.8" y="1821.00" width="51.2" height="75.50" fill="#A1BC60"/>
<rect x="2347.8" y="1701.80" width="51.2" height="119.20" fill="#E8B54F"/>
<text x="1407.4" y="1794.5" font-size="24.2" fill="#ffffff" text-anchor="middle" textLength="33.6" lengthAdjust="spacingAndGlyphs">8M</text>
<text x="1407.4" y="1867.0" font-size="24.2" fill="#ffffff" text-anchor="middle" textLength="33.6" lengthAdjust="spacingAndGlyphs">4M</text>
<text x="1407.4" y="1936.0" font-size="24.2" fill="#ffffff" text-anchor="middle" textLength="33.6" lengthAdjust="spacingAndGlyphs">2M</text>
<text x="1407.4" y="1974.3" font-size="24.2" fill="#ffffff" text-anchor="middle" textLength="33.6" lengthAdjust="spacingAndGlyphs">2M</text>
<text x="1408.9" y="2020.7" font-size="23.8" fill="#cccccc" text-anchor="middle" textLength="97.2" lengthAdjust="spacingAndGlyphs">Mar 2022</text>
<text x="1545.4" y="1788.8" font-size="24.2" fill="#ffffff" text-anchor="middle" textLength="33.6" lengthAdjust="spacingAndGlyphs">8M</text>
<text x="1545.4" y="1865.7" font-size="24.2" fill="#ffffff" text-anchor="middle" textLength="33.6" lengthAdjust="spacingAndGlyphs">5M</text>
<text x="1545.4" y="1936.5" font-size="24.2" fill="#ffffff" text-anchor="middle" textLength="33.6" lengthAdjust="spacingAndGlyphs">2M</text>
<text x="1545.4" y="1971.0" font-size="24.2" fill="#ffffff" text-anchor="middle" textLength="33.6" lengthAdjust="spacingAndGlyphs">1M</text>
<text x="1546.9" y="2020.7" font-size="23.8" fill="#cccccc" text-anchor="middle" textLength="92.3" lengthAdjust="spacingAndGlyphs">Jun 2022</text>
<text x="1683.4" y="1781.9" font-size="24.2" fill="#ffffff" text-anchor="middle" textLength="33.6" lengthAdjust="spacingAndGlyphs">8M</text>
<text x="1683.4" y="1858.2" font-size="24.2" fill="#ffffff" text-anchor="middle" textLength="33.6" lengthAdjust="spacingAndGlyphs">5M</text>
<text x="1683.4" y="1932.0" font-size="24.2" fill="#ffffff" text-anchor="middle" textLength="33.6" lengthAdjust="spacingAndGlyphs">2M</text>
<text x="1683.4" y="1971.5" font-size="24.2" fill="#ffffff" text-anchor="middle" textLength="33.6" lengthAdjust="spacingAndGlyphs">2M</text>
<text x="1684.9" y="2020.7" font-size="23.8" fill="#cccccc" text-anchor="middle" textLength="95.1" lengthAdjust="spacingAndGlyphs">Sep 2022</text>
<text x="1821.4" y="1766.7" font-size="24.2" fill="#ffffff" text-anchor="middle" textLength="33.6" lengthAdjust="spacingAndGlyphs">9M</text>
<text x="1821.4" y="1845.6" font-size="24.2" fill="#ffffff" text-anchor="middle" textLength="33.6" lengthAdjust="spacingAndGlyphs">5M</text>
<text x="1821.4" y="1924.5" font-size="24.2" fill="#ffffff" text-anchor="middle" textLength="33.6" lengthAdjust="spacingAndGlyphs">2M</text>
<text x="1821.4" y="1968.0" font-size="24.2" fill="#ffffff" text-anchor="middle" textLength="33.6" lengthAdjust="spacingAndGlyphs">2M</text>
<text x="1822.9" y="2020.7" font-size="23.8" fill="#cccccc" text-anchor="middle" textLength="96.0" lengthAdjust="spacingAndGlyphs">Dec 2022</text>
<text x="1959.4" y="1752.9" font-size="24.2" fill="#ffffff" text-anchor="middle" textLength="47.1" lengthAdjust="spacingAndGlyphs">10M</text>
<text x="1959.4" y="1831.9" font-size="24.2" fill="#ffffff" text-anchor="middle" textLength="33.6" lengthAdjust="spacingAndGlyphs">5M</text>
<text x="1959.4" y="1913.1" font-size="24.2" fill="#ffffff" text-anchor="middle" textLength="33.6" lengthAdjust="spacingAndGlyphs">2M</text>
<text x="1959.4" y="1961.9" font-size="24.2" fill="#ffffff" text-anchor="middle" textLength="33.6" lengthAdjust="spacingAndGlyphs">2M</text>
<text x="1960.9" y="2020.7" font-size="23.8" fill="#cccccc" text-anchor="middle" textLength="97.2" lengthAdjust="spacingAndGlyphs">Mar 2023</text>
<text x="2097.4" y="1707.8" font-size="24.2" fill="#ffffff" text-anchor="middle" textLength="45.3" lengthAdjust="spacingAndGlyphs">11M</text>
<text x="2097.4" y="1791.4" font-size="24.2" fill="#ffffff" text-anchor="middle" textLength="33.6" lengthAdjust="spacingAndGlyphs">5M</text>
<text x="2097.4" y="1883.8" font-size="24.2" fill="#ffffff" text-anchor="middle" textLength="33.6" lengthAdjust="spacingAndGlyphs">3M</text>
<text x="2097.4" y="1947.7" font-size="24.2" fill="#ffffff" text-anchor="middle" textLength="33.6" lengthAdjust="spacingAndGlyphs">3M</text>
<text x="2098.9" y="2020.7" font-size="23.8" fill="#cccccc" text-anchor="middle" textLength="92.3" lengthAdjust="spacingAndGlyphs">Jun 2023</text>
<text x="2235.4" y="1682.8" font-size="24.2" fill="#ffffff" text-anchor="middle" textLength="47.1" lengthAdjust="spacingAndGlyphs">13M</text>
<text x="2235.4" y="1767.4" font-size="24.2" fill="#ffffff" text-anchor="middle" textLength="33.6" lengthAdjust="spacingAndGlyphs">5M</text>
<text x="2235.4" y="1866.5" font-size="24.2" fill="#ffffff" text-anchor="middle" textLength="33.6" lengthAdjust="spacingAndGlyphs">3M</text>
<text x="2235.4" y="1940.2" font-size="24.2" fill="#ffffff" text-anchor="middle" textLength="33.6" lengthAdjust="spacingAndGlyphs">3M</text>
<text x="2236.9" y="2020.7" font-size="23.8" fill="#cccccc" text-anchor="middle" textLength="95.1" lengthAdjust="spacingAndGlyphs">Sep 2023</text>
<text x="2373.4" y="1686.3" font-size="24.2" fill="#ffffff" text-anchor="middle" textLength="47.1" lengthAdjust="spacingAndGlyphs">12M</text>
<text x="2373.4" y="1769.9" font-size="24.2" fill="#ffffff" text-anchor="middle" textLength="33.6" lengthAdjust="spacingAndGlyphs">5M</text>
<text x="2373.4" y="1867.2" font-size="24.2" fill="#ffffff" text-anchor="middle" textLength="33.6" lengthAdjust="spacingAndGlyphs">3M</text>
<text x="2373.4" y="1940.2" font-size="24.2" fill="#ffffff" text-anchor="middle" textLength="33.6" lengthAdjust="spacingAndGlyphs">3M</text>
<text x="2374.9" y="2020.7" font-size="23.8" fill="#cccccc" text-anchor="middle" textLength="96.0" lengthAdjust="spacingAndGlyphs">Dec 2023</text>
<rect x="2615.1" y="1857.6" width="51.6" height="132.1" fill="#E8B54F"/>
<text x="2640.9" y="1838.7" font-size="24.2" fill="#ffffff" text-anchor="middle" textLength="39.6" lengthAdjust="spacingAndGlyphs">42K</text>
<rect x="2666.7" y="1909.0" width="51.6" height="80.7" fill="#8A8A8A"/>
<text x="2692.5" y="1889.8" font-size="24.2" fill="#ffffff" text-anchor="middle" textLength="39.6" lengthAdjust="spacingAndGlyphs">26K</text>
<text x="2667.7" y="2021.9" font-size="23.8" fill="#cccccc" text-anchor="middle" textLength="37.3" lengthAdjust="spacingAndGlyphs">PTP</text>
<rect x="2746.7" y="1839.6" width="51.6" height="150.1" fill="#E8B54F"/>
<text x="2772.5" y="1820.7" font-size="24.2" fill="#ffffff" text-anchor="middle" textLength="39.6" lengthAdjust="spacingAndGlyphs">47K</text>
<rect x="2798.3" y="1895.5" width="51.6" height="94.2" fill="#8A8A8A"/>
<text x="2824.1" y="1876.3" font-size="24.2" fill="#ffffff" text-anchor="middle" textLength="39.6" lengthAdjust="spacingAndGlyphs">30K</text>
<text x="2799.3" y="2021.9" font-size="23.8" fill="#cccccc" text-anchor="middle" textLength="41.0" lengthAdjust="spacingAndGlyphs">OTC</text>
<rect x="2878.3" y="1827.5" width="51.6" height="162.2" fill="#E8B54F"/>
<text x="2904.1" y="1808.6" font-size="24.2" fill="#ffffff" text-anchor="middle" textLength="39.6" lengthAdjust="spacingAndGlyphs">51K</text>
<rect x="2929.9" y="1902.7" width="51.6" height="87.0" fill="#8A8A8A"/>
<text x="2955.7" y="1883.5" font-size="24.2" fill="#ffffff" text-anchor="middle" textLength="39.6" lengthAdjust="spacingAndGlyphs">27K</text>
<text x="2930.9" y="2021.9" font-size="23.8" fill="#cccccc" text-anchor="middle" textLength="38.0" lengthAdjust="spacingAndGlyphs">RTR</text>
<rect x="3009.9" y="1803.1" width="51.6" height="186.6" fill="#E8B54F"/>
<text x="3035.7" y="1784.2" font-size="24.2" fill="#ffffff" text-anchor="middle" textLength="39.6" lengthAdjust="spacingAndGlyphs">59K</text>
<rect x="3061.5" y="1907.0" width="51.6" height="82.7" fill="#8A8A8A"/>
<text x="3087.3" y="1887.8" font-size="24.2" fill="#ffffff" text-anchor="middle" textLength="39.6" lengthAdjust="spacingAndGlyphs">26K</text>
<text x="3062.5" y="2021.9" font-size="23.8" fill="#cccccc" text-anchor="middle" textLength="57.6" lengthAdjust="spacingAndGlyphs">MDM</text>
<rect x="3141.5" y="1696.9" width="51.6" height="292.8" fill="#E8B54F"/>
<text x="3167.3" y="1678.0" font-size="24.2" fill="#ffffff" text-anchor="middle" textLength="39.6" lengthAdjust="spacingAndGlyphs">92K</text>
<text x="3194.1" y="2021.9" font-size="23.8" fill="#cccccc" text-anchor="middle" textLength="57.4" lengthAdjust="spacingAndGlyphs">FP&amp;A</text>
<rect x="3273.1" y="1820.0" width="51.6" height="169.7" fill="#E8B54F"/>
<text x="3298.9" y="1801.1" font-size="24.2" fill="#ffffff" text-anchor="middle" textLength="39.6" lengthAdjust="spacingAndGlyphs">53K</text>
<text x="3325.7" y="2021.9" font-size="23.8" fill="#cccccc" text-anchor="middle" textLength="38.7" lengthAdjust="spacingAndGlyphs">TAX</text>
<rect x="3404.7" y="1810.3" width="51.6" height="179.4" fill="#E8B54F"/>
<text x="3430.5" y="1791.4" font-size="24.2" fill="#ffffff" text-anchor="middle" textLength="39.6" lengthAdjust="spacingAndGlyphs">56K</text>
<rect x="3456.3" y="1853.9" width="51.6" height="135.8" fill="#8A8A8A"/>
<text x="3482.1" y="1834.7" font-size="24.2" fill="#ffffff" text-anchor="middle" textLength="39.6" lengthAdjust="spacingAndGlyphs">43K</text>
<text x="3457.3" y="2021.9" font-size="23.8" fill="#cccccc" text-anchor="middle" textLength="37.7" lengthAdjust="spacingAndGlyphs">TRY</text>
<rect x="3536.3" y="1801.4" width="51.6" height="188.3" fill="#E8B54F"/>
<text x="3562.1" y="1782.5" font-size="24.2" fill="#ffffff" text-anchor="middle" textLength="39.6" lengthAdjust="spacingAndGlyphs">59K</text>
<rect x="3587.9" y="1905.0" width="51.6" height="84.7" fill="#8A8A8A"/>
<text x="3613.7" y="1885.8" font-size="24.2" fill="#ffffff" text-anchor="middle" textLength="39.6" lengthAdjust="spacingAndGlyphs">27K</text>
<text x="3588.9" y="2021.9" font-size="23.8" fill="#cccccc" text-anchor="middle" textLength="44.3" lengthAdjust="spacingAndGlyphs">OTH</text>
</svg>
<div class="rframe"></div><div class="bframe"></div><div class="rbar"></div><div class="bbar"></div><div class="dots"></div>
</body></html>
